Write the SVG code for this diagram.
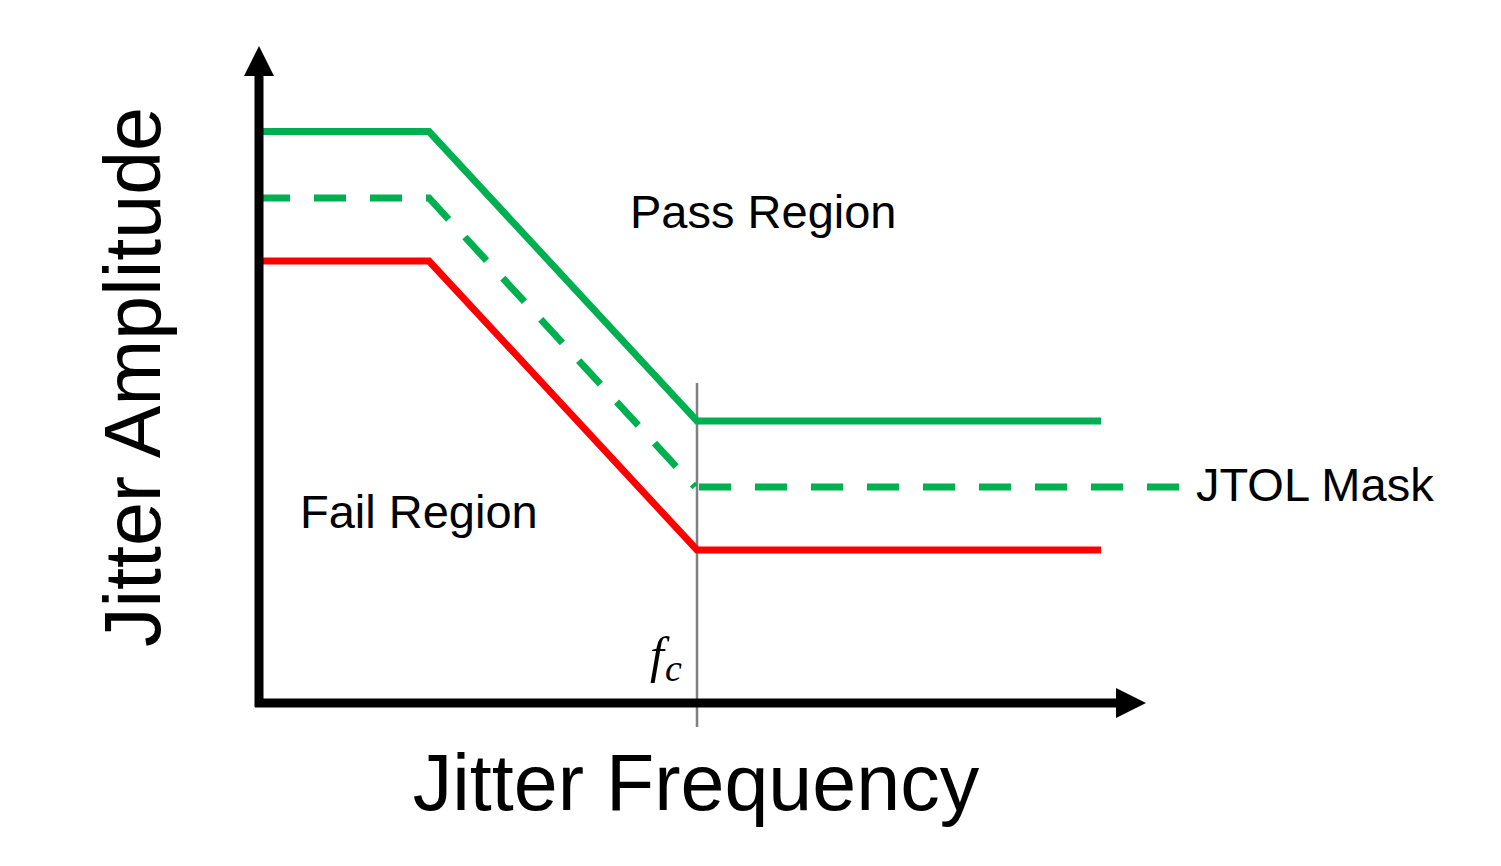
<svg xmlns="http://www.w3.org/2000/svg" width="1501" height="866" viewBox="0 0 1501 866">
<style>
.lbl{font-family:"Liberation Sans",Arial,sans-serif;fill:#000}
.g{fill:none;stroke:#00B050;stroke-width:7}
.r{fill:none;stroke:#FF0000;stroke-width:7}
.ax{fill:none;stroke:#000;stroke-width:9}
</style>
<rect width="1501" height="866" fill="#fff"/>
<g id="connectors">
<line id="fc-line" x1="697" y1="383" x2="697" y2="727" stroke="#808080" stroke-width="2.5"/>
<polyline id="pass-curve" class="g" points="262,131.5 429,131.5 697,421 1101,421"/>
<polyline id="jtol-mask-left" class="g" stroke-dasharray="32 24" points="258,198 429,198 695,487"/>
<polyline id="jtol-mask-right" class="g" stroke-dasharray="32 24" points="1179,487 695,487"/>
<polyline id="fail-curve" class="r" points="262,261 429,261 697,550 1101,550"/>
<line id="y-axis" class="ax" x1="259" y1="707" x2="259" y2="74"/>
<polygon points="259,46 244,76 274,76" fill="#000"/>
<line id="x-axis" class="ax" x1="255" y1="703" x2="1118" y2="703"/>
<polygon points="1146,703 1116,688 1116,718" fill="#000"/>
</g>
<g id="pass-region"><text class="lbl" x="630" y="228" font-size="47">Pass Region</text></g>
<g id="fail-region"><text class="lbl" x="300" y="528" font-size="47">Fail Region</text></g>
<g id="jtol-label"><text class="lbl" x="1196" y="501" font-size="47">JTOL Mask</text></g>
<g id="x-label"><text class="lbl" x="696" y="810" font-size="79" text-anchor="middle">Jitter Frequency</text></g>
<g id="y-label"><text class="lbl" transform="translate(160,377) rotate(-90)" font-size="79" text-anchor="middle">Jitter Amplitude</text></g>
<g id="fc-label"><text x="650" y="672" font-family="'Liberation Serif','DejaVu Serif',serif" font-style="italic" font-size="50">f<tspan font-size="38" dx="1" dy="9">c</tspan></text></g>
</svg>
